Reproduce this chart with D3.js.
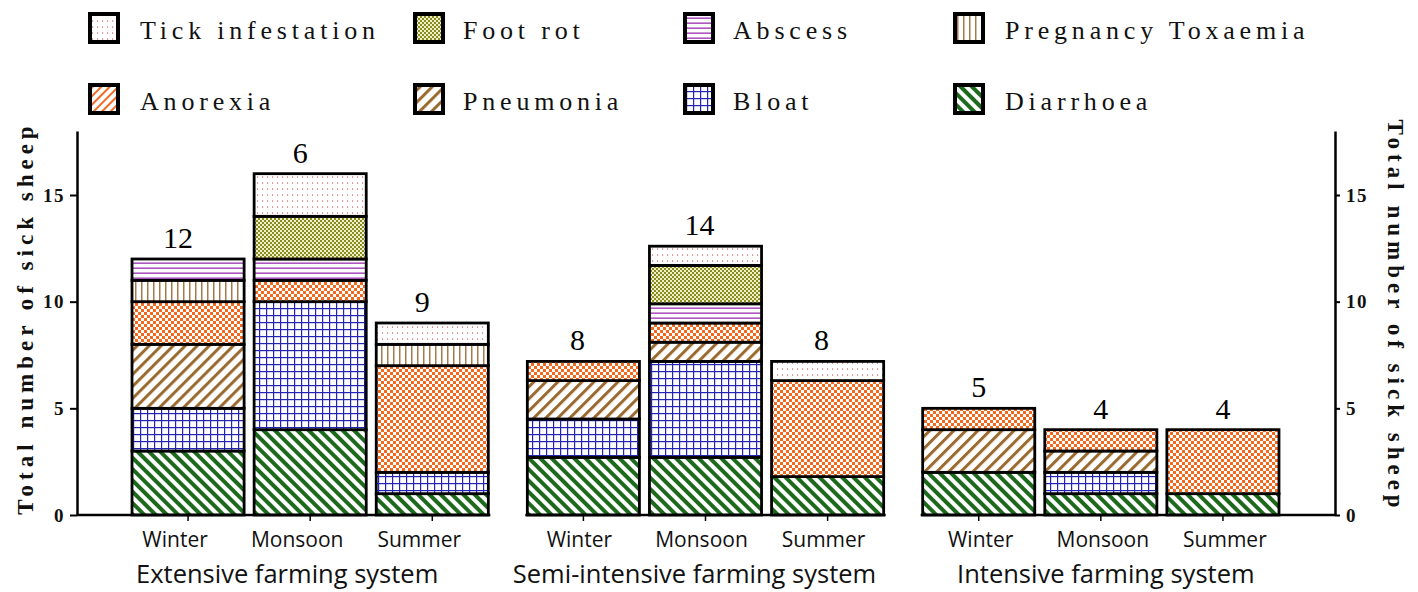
<!DOCTYPE html>
<html>
<head>
<meta charset="utf-8">
<script src="https://cdn.jsdelivr.net/npm/d3@7/dist/d3.min.js"></script>
<style>
  body { margin: 0; background: #fff; }
</style>
</head>
<body>
<svg id="chart" width="1418" height="592"></svg>
<script>
// data (values in axis units, semi-intensive group is drawn on a 0.9 scale in the original)
var groups = ["Extensive farming system", "Semi-intensive farming system", "Intensive farming system"];
var seasons = ["Winter", "Monsoon", "Summer"];
var diseases = ["Diarrhoea", "Bloat", "Pneumonia", "Anorexia", "Pregnancy Toxaemia", "Abscess", "Foot rot", "Tick infestation"];

var diarrhoea = [3, 4, 1,   2.7, 2.7, 1.8,   2, 1, 1];
var bloat     = [2, 6, 1,   1.8, 4.5, 0,     0, 1, 0];
var pneumonia = [3, 0, 0,   1.8, 0.9, 0,     2, 1, 0];
var anorexia  = [2, 1, 5,   0.9, 0.9, 4.5,   1, 1, 3];
var pregTox   = [1, 0, 1,   0, 0, 0,         0, 0, 0];
var abscess   = [1, 1, 0,   0, 0.9, 0,       0, 0, 0];
var footRot   = [0, 2, 0,   0, 1.8, 0,       0, 0, 0];
var tick      = [0, 2, 1,   0, 0.9, 0.9,     0, 0, 0];

var barLabels = ["12", "6", "9", "8", "14", "8", "5", "4", "4"];
var yTicks = [0, 5, 10, 15];
var legendRows = [
  ["Tick infestation", "Foot rot", "Abscess", "Pregnancy Toxaemia"],
  ["Anorexia", "Pneumonia", "Bloat", "Diarrhoea"]
];
var yTitle = "Total number of sick sheep";

var series = [diarrhoea, bloat, pneumonia, anorexia, pregTox, abscess, footRot, tick];

// build rows for the stack
var rows = [];
groups.forEach(function(g, gi) {
  seasons.forEach(function(s, si) {
    var i = gi * 3 + si;
    var r = {group: g, season: s, label: barLabels[i]};
    diseases.forEach(function(k, ki) { r[k] = series[ki][i]; });
    rows.push(r);
  });
});

var svg = d3.select("#chart");
var defs = svg.append("defs");
var serif = "'Liberation Serif', 'Times New Roman', serif";

// ---- patterns
function bgRect(p, w, h) {
  p.append("rect").attr("width", w).attr("height", h).attr("fill", "#fff");
}
function stripes(id, color, period, sw, angle) {
  var p = defs.append("pattern").attr("id", id)
    .attr("patternUnits", "userSpaceOnUse")
    .attr("width", period).attr("height", period)
    .attr("patternTransform", "rotate(" + angle + ")");
  bgRect(p, period, period);
  p.append("rect").attr("width", sw).attr("height", period).attr("fill", color);
}
function checker(id, c1, c2, cell) {
  var p = defs.append("pattern").attr("id", id)
    .attr("patternUnits", "userSpaceOnUse")
    .attr("width", cell * 2).attr("height", cell * 2);
  p.append("rect").attr("width", cell * 2).attr("height", cell * 2).attr("fill", c2);
  p.append("rect").attr("width", cell).attr("height", cell).attr("fill", c1);
  p.append("rect").attr("x", cell).attr("y", cell).attr("width", cell).attr("height", cell).attr("fill", c1);
}
function lines(id, color, period, sw, vertical) {
  var p = defs.append("pattern").attr("id", id)
    .attr("patternUnits", "userSpaceOnUse")
    .attr("width", period).attr("height", period);
  bgRect(p, period, period);
  if (vertical) p.append("rect").attr("x", period / 2).attr("width", sw).attr("height", period).attr("fill", color);
  else p.append("rect").attr("y", period / 2).attr("width", period).attr("height", sw).attr("fill", color);
}

stripes("p-diarrhoea", "#1d6a1d", 8, 4, -45);
stripes("p-pneumonia", "#9a6a2e", 8.5, 3, 45);
stripes("p-anorexia-leg", "#f06a24", 6, 2, 45);
checker("p-anorexia", "#f2691e", "#fff", 3);
checker("p-footrot", "#8a8c22", "#eef0c8", 2);
lines("p-abscess", "#9a2fb0", 5, 1.3, false);
lines("p-pregtox", "#a47c4c", 6, 1.5, true);

var pg = defs.append("pattern").attr("id", "p-bloat")
  .attr("patternUnits", "userSpaceOnUse").attr("width", 7).attr("height", 7);
bgRect(pg, 7, 7);
pg.append("rect").attr("width", 1.2).attr("height", 7).attr("fill", "#2424b4");
pg.append("rect").attr("width", 7).attr("height", 1.2).attr("fill", "#2424b4");

var pt = defs.append("pattern").attr("id", "p-tick")
  .attr("patternUnits", "userSpaceOnUse").attr("width", 5).attr("height", 6);
bgRect(pt, 5, 6);
pt.append("rect").attr("x", 2).attr("y", 2.5).attr("width", 1.1).attr("height", 1.1).attr("fill", "#c0504d");

var fillOf = {
  "Diarrhoea": "url(#p-diarrhoea)",
  "Bloat": "url(#p-bloat)",
  "Pneumonia": "url(#p-pneumonia)",
  "Anorexia": "url(#p-anorexia)",
  "Pregnancy Toxaemia": "url(#p-pregtox)",
  "Abscess": "url(#p-abscess)",
  "Foot rot": "url(#p-footrot)",
  "Tick infestation": "url(#p-tick)"
};
var legendFill = Object.assign({}, fillOf, {"Anorexia": "url(#p-anorexia-leg)"});

// ---- scales
var leftAxisX = 77, rightAxisX = 1335;
var y = d3.scaleLinear().domain([0, 18]).range([515, 131]);

var x0 = d3.scaleBand().domain(groups).range([122, 1289]).paddingInner(0.048).paddingOuter(0);
var x1 = d3.scaleBand().domain(seasons).range([0, x0.bandwidth()]).padding(0.082);

// ---- bars
var stack = d3.stack().keys(diseases);
var layers = stack(rows);

var gBars = svg.append("g");
layers.forEach(function(layer) {
  gBars.selectAll(null)
    .data(layer.filter(function(d) { return d[1] - d[0] > 0; }))
    .enter().append("rect")
    .attr("x", function(d) { return x0(d.data.group) + x1(d.data.season); })
    .attr("y", function(d) { return y(d[1]); })
    .attr("width", x1.bandwidth())
    .attr("height", function(d) { return y(d[0]) - y(d[1]); })
    .attr("fill", fillOf[layer.key])
    .attr("stroke", "#000")
    .attr("stroke-width", 2.8);
});

// value labels on top
var labelShift = [-10, -6, 0];
svg.append("g").selectAll("text")
  .data(rows)
  .enter().append("text")
  .attr("x", function(d) { return x0(d.group) + x1(d.season) + x1.bandwidth() / 2 + labelShift[groups.indexOf(d.group)]; })
  .attr("y", function(d) {
    var tot = d3.sum(diseases, function(k) { return d[k]; });
    return y(tot) - 11;
  })
  .attr("text-anchor", "middle")
  .attr("font-family", serif)
  .attr("font-size", 30)
  .text(function(d) { return d.label; });

// ---- y axes
var yAxisL = svg.append("g")
  .attr("transform", "translate(" + leftAxisX + ",0)")
  .call(d3.axisLeft(y).tickValues(yTicks).tickSize(7).tickSizeOuter(0).tickPadding(5));
var yAxisR = svg.append("g")
  .attr("transform", "translate(" + rightAxisX + ",0)")
  .call(d3.axisRight(y).tickValues(yTicks).tickSize(5).tickSizeOuter(0).tickPadding(6));

[yAxisL, yAxisR].forEach(function(ax) {
  ax.select(".domain").attr("stroke-width", 2.5);
  ax.selectAll(".tick line").attr("stroke-width", 2);
  ax.selectAll(".tick text")
    .attr("font-family", serif)
    .attr("font-weight", "bold")
    .attr("font-size", 19)
    .attr("letter-spacing", 1.5)
    .attr("fill", "#111");
});

// ---- x axis: one segment per group
groups.forEach(function(g, gi) {
  var sub = d3.scaleBand().domain(seasons)
    .range([x0(g), x0(g) + x0.bandwidth()]).padding(0.082);
  var ax = svg.append("g")
    .attr("transform", "translate(0," + y(0) + ")")
    .call(d3.axisBottom(sub).tickSize(6).tickSizeOuter(0).tickFormat(""));
  ax.select(".domain").remove();
  ax.selectAll(".tick line").attr("stroke-width", 1.5);

  var segStart = gi === 0 ? leftAxisX : sub("Winter") - 2;
  var segEnd = gi === 2 ? rightAxisX : sub("Summer") + sub.bandwidth() + 2;
  svg.append("line")
    .attr("x1", segStart).attr("x2", segEnd)
    .attr("y1", y(0)).attr("y2", y(0))
    .attr("stroke", "#000").attr("stroke-width", 2.5);

  var seasonShift = [-13, -4, 2][gi];
  svg.append("g").selectAll("text")
    .data(seasons)
    .enter().append("text")
    .attr("x", function(s) { return sub(s) + sub.bandwidth() / 2 + seasonShift; })
    .attr("y", y(0) + 32)
    .attr("text-anchor", "middle")
    .attr("font-family", "'Open Sans', sans-serif")
    .attr("font-size", 21)
    .attr("fill", "#111")
    .text(function(s) { return s; });

  var groupShift = [-23, -11, 5][gi];
  svg.append("text")
    .attr("x", x0(g) + x0.bandwidth() / 2 + groupShift)
    .attr("y", y(0) + 68)
    .attr("text-anchor", "middle")
    .attr("font-family", "'Open Sans', sans-serif")
    .attr("font-size", 25.5)
    .attr("fill", "#111")
    .text(g);
});

// ---- axis titles
svg.append("text")
  .attr("transform", "translate(33,318) rotate(-90)")
  .attr("text-anchor", "middle")
  .attr("font-family", serif)
  .attr("font-weight", "bold")
  .attr("font-size", 23)
  .attr("letter-spacing", 5)
  .attr("fill", "#111")
  .text(yTitle);

svg.append("text")
  .attr("transform", "translate(1388,316) rotate(90)")
  .attr("text-anchor", "middle")
  .attr("font-family", serif)
  .attr("font-weight", "bold")
  .attr("font-size", 23)
  .attr("letter-spacing", 5)
  .attr("fill", "#111")
  .text(yTitle);

// ---- legend
var legX = [88, 413, 683, 953];
var legTextX = [140, 463, 733, 1005];
var legY = [12, 83];
var legend = svg.append("g");
legendRows.forEach(function(row, ri) {
  row.forEach(function(name, ci) {
    legend.append("rect")
      .attr("x", legX[ci] + 2).attr("y", legY[ri] + 2)
      .attr("width", 28).attr("height", 28)
      .attr("fill", legendFill[name])
      .attr("stroke", "#000")
      .attr("stroke-width", 4);
    legend.append("text")
      .attr("x", legTextX[ci])
      .attr("y", legY[ri] + 27)
      .attr("font-family", serif)
      .attr("font-size", 26)
      .attr("letter-spacing", 4.8)
      .attr("fill", "#111")
      .text(name);
  });
});
</script>
</body>
</html>
